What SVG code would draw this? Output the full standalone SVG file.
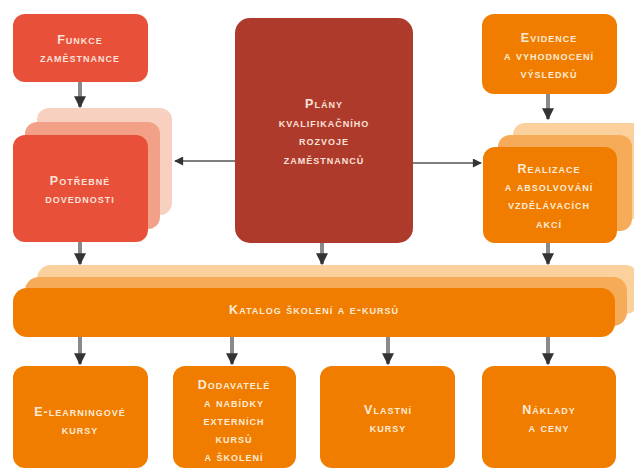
<svg xmlns="http://www.w3.org/2000/svg" width="634" height="471" viewBox="0 0 634 471">
  <defs>
    <style>
      .red { fill: #E8503A; }
      .red2 { fill: #F2A088; }
      .red3 { fill: #F8D0C0; }
      .dark { fill: #AE3A2C; }
      .org { fill: #F07D00; }
      .org2 { fill: #F6AB58; }
      .org3 { fill: #FAD19C; }
      text { font-family: "Liberation Sans", Arial, sans-serif; font-size: 12.5px; font-weight: bold; font-variant: small-caps; letter-spacing: 1px; text-anchor: middle; }
      .tr { fill: #FBE2D8; }
      .to { fill: #FDEBD6; }
      .vline { stroke: #8A8A8A; stroke-width: 4; fill: none; }
      .hline { stroke: #555555; stroke-width: 1.5; fill: none; }
    </style>
    <marker id="ah" viewBox="0 0 10 10" refX="9" refY="5" markerWidth="10" markerHeight="9" markerUnits="userSpaceOnUse" orient="auto">
      <path d="M0,0 L10,5 L0,10 z" fill="#333333"/>
    </marker>
    <marker id="ahv" viewBox="0 0 10 10" refX="9" refY="5" markerWidth="3.2" markerHeight="3" orient="auto">
      <path d="M0,0 L10,5 L0,10 z" fill="#333333"/>
    </marker>
  </defs>

  <!-- connectors -->
  <g id="connectors">
    <line class="vline" x1="80" y1="82" x2="80" y2="107" marker-end="url(#ahv)"/>
    <line class="vline" x1="548" y1="94" x2="548" y2="119" marker-end="url(#ahv)"/>
    <line class="hline" x1="235" y1="161" x2="175" y2="161" marker-end="url(#ah)"/>
    <line class="hline" x1="413" y1="163" x2="481" y2="163" marker-end="url(#ah)"/>
    <line class="vline" x1="80" y1="242" x2="80" y2="264" marker-end="url(#ahv)"/>
    <line class="vline" x1="322" y1="243" x2="322" y2="264" marker-end="url(#ahv)"/>
    <line class="vline" x1="548" y1="243" x2="548" y2="264" marker-end="url(#ahv)"/>
    <line class="vline" x1="80" y1="337" x2="80" y2="364" marker-end="url(#ahv)"/>
    <line class="vline" x1="232" y1="337" x2="232" y2="364" marker-end="url(#ahv)"/>
    <line class="vline" x1="388" y1="337" x2="388" y2="364" marker-end="url(#ahv)"/>
    <line class="vline" x1="548" y1="337" x2="548" y2="364" marker-end="url(#ahv)"/>
  </g>

  <g id="funkce">
    <rect class="red" x="13" y="14" width="135" height="68" rx="12"/>
    <text class="tr" x="80" y="44">Funkce</text>
    <text class="tr" x="80" y="62">zaměstnance</text>
  </g>

  <g id="potrebne">
    <rect class="red3" x="37" y="108" width="135" height="107" rx="12"/>
    <rect class="red2" x="25" y="122" width="135" height="107" rx="12"/>
    <rect class="red" x="13" y="135" width="135" height="107" rx="12"/>
    <text class="tr" x="80" y="185">Potřebné</text>
    <text class="tr" x="80" y="203">dovednosti</text>
  </g>

  <g id="plany">
    <rect class="dark" x="235" y="18" width="178" height="225" rx="15"/>
    <text class="tr" x="324" y="108">Plány</text>
    <text class="tr" x="324" y="127">kvalifikačního</text>
    <text class="tr" x="324" y="145">rozvoje</text>
    <text class="tr" x="324" y="164">zaměstnanců</text>
  </g>

  <g id="evidence">
    <rect class="org" x="482" y="14" width="135" height="80" rx="12"/>
    <text class="to" x="549" y="42">Evidence</text>
    <text class="to" x="549" y="60">a vyhodnocení</text>
    <text class="to" x="549" y="78">výsledků</text>
  </g>

  <g id="realizace">
    <rect class="org3" x="513" y="123" width="134" height="96" rx="12"/>
    <rect class="org2" x="498" y="135" width="134" height="96" rx="12"/>
    <rect class="org" x="483" y="147" width="134" height="96" rx="12"/>
    <text class="to" x="549" y="173">Realizace</text>
    <text class="to" x="549" y="191">a absolvování</text>
    <text class="to" x="549" y="209">vzdělávacích</text>
    <text class="to" x="549" y="228">akcí</text>
  </g>

  <g id="katalog">
    <rect class="org3" x="37" y="265" width="602" height="49" rx="14"/>
    <rect class="org2" x="25" y="277" width="602" height="49" rx="14"/>
    <rect class="org" x="13" y="288" width="602" height="49" rx="14"/>
    <text class="to" x="314" y="314">Katalog školení a e-kursů</text>
  </g>

  <g id="elearning">
    <rect class="org" x="13" y="366" width="135" height="102" rx="12"/>
    <text class="to" x="80" y="416">E-learningové</text>
    <text class="to" x="80" y="434">kursy</text>
  </g>

  <g id="dodavatele">
    <rect class="org" x="173" y="366" width="123" height="102" rx="12"/>
    <text class="to" x="234" y="389">Dodavatelé</text>
    <text class="to" x="234" y="407">a nabídky</text>
    <text class="to" x="234" y="425">externích</text>
    <text class="to" x="234" y="443">kursů</text>
    <text class="to" x="234" y="461">a školení</text>
  </g>

  <g id="vlastni">
    <rect class="org" x="320" y="366" width="135" height="102" rx="12"/>
    <text class="to" x="388" y="414">Vlastní</text>
    <text class="to" x="388" y="432">kursy</text>
  </g>

  <g id="naklady">
    <rect class="org" x="482" y="366" width="134" height="102" rx="12"/>
    <text class="to" x="549" y="414">Náklady</text>
    <text class="to" x="549" y="432">a ceny</text>
  </g>
</svg>
